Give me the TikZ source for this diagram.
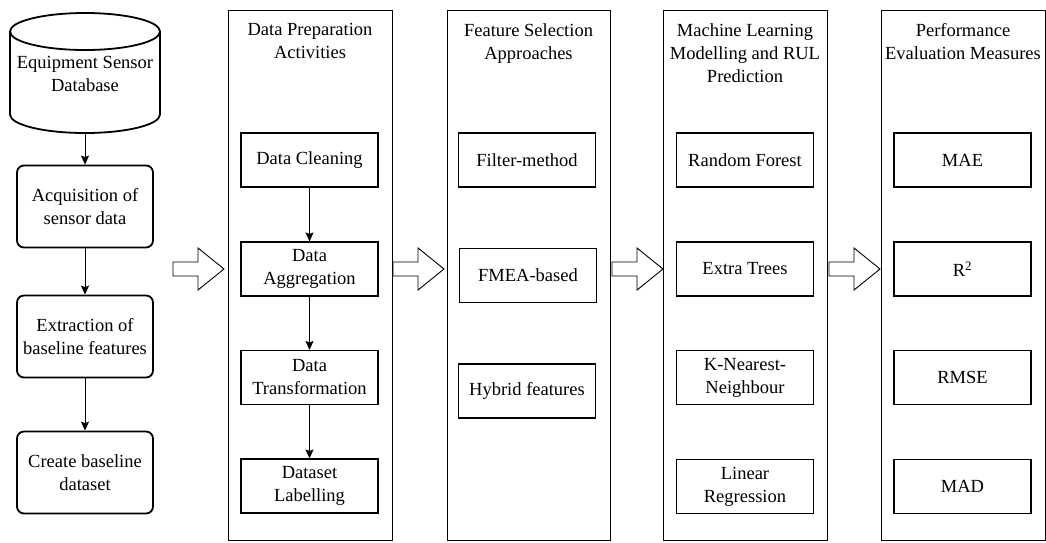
\documentclass[tikz,border=0pt]{standalone}
\usepackage{fontspec}
\setmainfont{Liberation Serif}
\usetikzlibrary{arrows.meta}
\begin{document}
\begin{tikzpicture}[x=1pt,y=-1pt,
  every node/.style={font=\fontsize{18.5}{23}\selectfont, text=black},
  col/.style={draw, line width=1pt, minimum width=164pt, minimum height=530pt, inner sep=0pt},
  ttl/.style={anchor=north, inner sep=0pt, align=center},
  ibox/.style={draw, line width=1.1pt, minimum width=137pt, minimum height=54pt, align=center, inner sep=1pt},
  lbox/.style={draw, line width=1.8pt, rounded corners=7pt, minimum width=136pt, minimum height=82pt, align=center, inner sep=1pt},
  conn/.style={line width=1pt, -{Stealth[length=9pt,width=8pt,inset=1.5pt]}},
  barrow/.style={draw, line width=0.9pt, fill=white}
]
\useasboundingbox (0,0) rectangle (1046,542);

% cylinder
\draw[line width=1.8pt, fill=white] (10,31.5) -- (10,114.5) arc[start angle=180,end angle=360,x radius=75pt,y radius=18.5pt] -- (160,31.5);
\draw[line width=1.8pt, fill=white] (85,31.5) ellipse[x radius=75pt, y radius=18.5pt];
\node[minimum width=150pt, minimum height=120pt, inner sep=0pt] (db) at (85,73) {};
\node[align=center, inner sep=0pt] (dbtext) at (85,74) {Equipment Sensor\\Database};

% left boxes
\node[lbox] (acq) at (85,206.5) {Acquisition of\\sensor data};
\node[lbox] (ext) at (85,336.5) {Extraction of\\baseline features};
\node[lbox] (cre) at (85,472.5) {Create baseline\\dataset};
\draw[conn] (db.south) -- (acq.north);
\draw[conn] (acq.south) -- (ext.north);
\draw[conn] (ext.south) -- (cre.north);

% columns
\node[col] (c1) at (310,275) {};
\node[col, minimum width=163pt] (c2) at (528.5,275) {};
\node[col] (c3) at (745,275) {};
\node[col] (c4) at (963,275) {};

\node[ttl] (t1) at (310,23) {Data Preparation\\Activities};
\node[ttl] (t2) at (528.5,23) {Feature Selection\\Approaches};
\node[ttl] (t3) at (745,23) {Machine Learning\\Modelling and RUL\\Prediction};
\node[ttl] (t4) at (963,23) {Performance\\Evaluation Measures};

% column 1
\node[ibox] (dc) at (309.5,160) {Data Cleaning};
\node[ibox] (da) at (309.5,269) {Data\\Aggregation};
\node[ibox] (dt) at (309.5,377.5) {Data\\Transformation};
\node[ibox] (dl) at (309.5,486) {Dataset\\Labelling};
\draw[conn] (dc.south) -- (da.north);
\draw[conn] (da.south) -- (dt.north);
\draw[conn] (dt.south) -- (dl.north);

% column 2
\node[ibox] (fm) at (527,160) {Filter-method};
\node[ibox] (fb) at (528,275.5) {FMEA-based};
\node[ibox] (hf) at (527,391) {Hybrid features};

% column 3
\node[ibox] (rf) at (745,160) {Random Forest};
\node[ibox] (et) at (745,269) {Extra Trees};
\node[ibox] (kn) at (745,377.5) {K-Nearest-\\Neighbour};
\node[ibox] (lr) at (745,486.5) {Linear\\Regression};

% column 4
\node[ibox] (mae) at (962.5,160) {MAE};
\node[ibox] (r2) at (962.5,269) {R\textsuperscript{2}};
\node[ibox] (rmse) at (962.5,377.5) {RMSE};
\node[ibox] (mad) at (962.5,486.5) {MAD};

% block arrows
\foreach \x in {173,393,612,829}{
  \draw[barrow] (\x,262) -- (\x+25,262) -- (\x+25,248) -- (\x+51,269) -- (\x+25,290) -- (\x+25,276) -- (\x,276) -- cycle;
}
\end{tikzpicture}
\end{document}
